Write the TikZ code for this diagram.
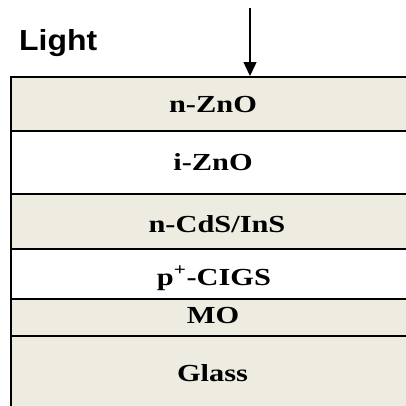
\documentclass[tikz,border=0pt]{standalone}
\usepackage{fontspec}
\setmainfont{Liberation Serif}
\newfontfamily\arialfont{Liberation Sans}
\usetikzlibrary{arrows.meta}
\definecolor{layerbeige}{RGB}{238,235,224}
\newcommand{\widetext}[1]{\scalebox{1.24}[1]{#1}}
\tikzset{
  layer/.style={draw=black, line width=2.2pt, anchor=north west, minimum width=406pt, inner sep=0pt},
  beige/.style={fill=layerbeige},
  plain/.style={fill=white},
  label/.style={anchor=base, inner sep=0pt, font=\fontsize{24.5}{26}\selectfont\bfseries},
  lightarrow/.style={line width=1.5pt, -{Triangle[length=14pt,width=13pt]}},
}
\begin{document}
\begin{tikzpicture}[x=1pt,y=-1pt]
\useasboundingbox (0,0) rectangle (406,405);
\clip (0,0) rectangle (406,405);
\node[layer, beige, minimum height=54pt] (nzno) at (10,76) {};
\node[layer, plain, minimum height=63pt] (izno) at (10,130) {};
\node[layer, beige, minimum height=55pt] (cds) at (10,193) {};
\node[layer, plain, minimum height=50pt] (cigs) at (10,248) {};
\node[layer, beige, minimum height=37pt] (mo) at (10,298) {};
\node[layer, beige, minimum height=85pt] (glass) at (10,335) {};
\node[label] (lnzno) at (213,112.7) {\widetext{n-ZnO}};
\node[label] (lizno) at (213,170.7) {\widetext{i-ZnO}};
\node[label] (lcds) at (217,232) {\widetext{n-CdS/InS}};
\node[label] (lcigs) at (214,285) {\widetext{p\textsuperscript{+}-CIGS}};
\node[label] (lmo) at (213,323.3) {\widetext{MO}};
\node[label] (lglass) at (212.5,381.7) {\widetext{Glass}};
\node[anchor=base west, inner sep=0pt, font=\arialfont\fontsize{29}{31}\selectfont\bfseries] (light) at (19,50) {\scalebox{1.1}[1]{Light}};
\coordinate (arrowtop) at (250,8);
\draw[lightarrow] (arrowtop) -- (arrowtop |- nzno.north);
\end{tikzpicture}
\end{document}
